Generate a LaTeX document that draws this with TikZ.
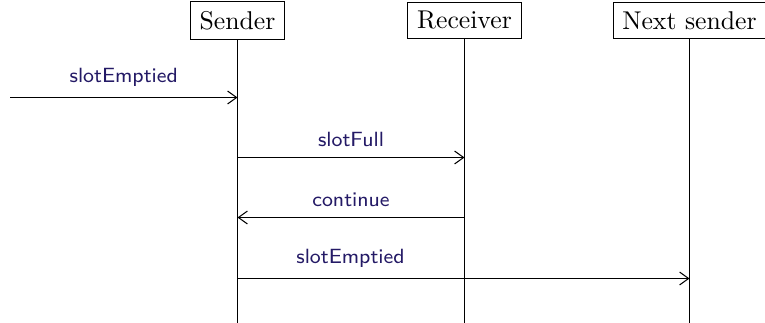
\documentclass[tikz,border=0pt]{standalone}
\usetikzlibrary{arrows.meta}
\definecolor{msgcolor}{RGB}{36,26,102}
\begin{document}
\begin{tikzpicture}[x=0.389pt,y=-0.389pt,
  actor/.style={draw,line width=0.4pt,inner sep=3.6pt,font=\normalsize},
  lifeline/.style={line width=0.4pt},
  msg/.style={-{Straight Barb[length=3.5pt,width=5pt]},line width=0.4pt},
  msglabel/.style={font=\sffamily\footnotesize,text=msgcolor,above,inner sep=4pt}]
\useasboundingbox (0,0) rectangle (765,323);
\node[actor] (sender) at (237.5,20.5) {Sender};
\node[actor] (receiver) at (464.5,20.5) {Receiver};
\node[actor] (next) at (689.5,20.5) {Next sender};
\coordinate (sEnd) at (237.5,323);
\coordinate (rEnd) at (464.5,323);
\coordinate (nEnd) at (689.5,323);
\draw[lifeline] (sender.south) -- (sEnd);
\draw[lifeline] (receiver.south) -- (rEnd);
\draw[lifeline] (next.south) -- (nEnd);
\coordinate (in) at (10,97.5);
\coordinate (s1) at (237.5,97.5);
\coordinate (s2) at (237.5,157.5);
\coordinate (r2) at (464.5,157.5);
\coordinate (s3) at (237.5,217.5);
\coordinate (r3) at (464.5,217.5);
\coordinate (s4) at (237.5,278.5);
\coordinate (n4) at (689.5,278.5);
\draw[msg] (in) -- node[msglabel] {slotEmptied} (s1);
\draw[msg] (s2) -- node[msglabel] {slotFull} (r2);
\draw[msg] (r3) -- node[msglabel] {continue} (s3);
\draw[msg] (s4) -- node[msglabel,pos=0.25] {slotEmptied} (n4);
\end{tikzpicture}
\end{document}
